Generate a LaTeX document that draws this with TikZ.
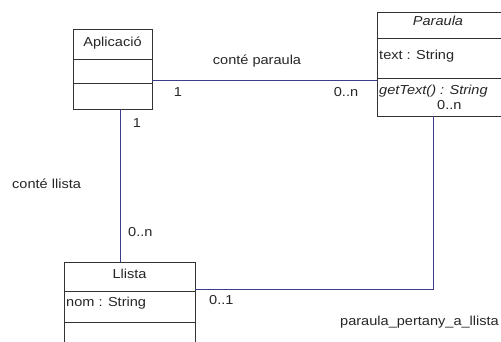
\documentclass[tikz,border=0pt]{standalone}
\usepackage{fontspec}
\setmainfont[FakeStretch=1.12]{Liberation Sans}
\begin{document}
\begin{tikzpicture}[x=1pt,y=-1pt,
  box/.style={draw=black!80,line width=1pt,inner sep=0pt,anchor=north west},
  divline/.style={draw=black!80,line width=1pt},
  conn/.style={draw={rgb,255:red,60;green,60;blue,140},line width=0.9pt},
  lbl/.style={inner sep=0pt,font=\fontsize{13}{15}\selectfont,text=black!85},
  txt/.style={lbl,anchor=west}]
\useasboundingbox (0,0) rectangle (501,342);
% boxes
\node[box,minimum width=79pt,minimum height=80pt] (apl) at (73,29) {};
\node[box,minimum width=126pt,minimum height=104pt] (par) at (377,12) {};
\node[box,minimum width=131pt,minimum height=90pt] (lli) at (64,262) {};
% dividers
\draw[divline] (73,60) -- (152,60) (73,84) -- (152,84);
\draw[divline] (377,39) -- (503,39) (377,79) -- (503,79);
\draw[divline] (64,291) -- (195,291) (64,322) -- (195,322);
% texts in boxes
\node[lbl] (tapl) at (112.5,43) {Aplicació};
\node[lbl] (tpar) at (438,21) {\itshape Paraula};
\node[txt] (tattr) at (379,56) {text : String};
\node[txt] (tmeth) at (379,91) {\itshape getText() : String};
\node[lbl] (tlli) at (129.5,274) {Llista};
\node[txt] (tnom) at (66,303) {nom : String};
% connector endpoints
\coordinate (a1) at (152,80);
\coordinate (p1) at (377,80);
\coordinate (a2) at (120,109);
\coordinate (l2) at (120,262);
\coordinate (l3) at (195,289);
\coordinate (k3) at (433,289);
\coordinate (p3) at (433,116);
\draw[conn] (a1) -- (p1);
\draw[conn] (a2) -- (l2);
\draw[conn] (l3) -- (k3) -- (p3);
% association labels
\node[lbl] (c1) at (257,61) {conté paraula};
\node[lbl] (m1) at (178,92) {1};
\node[lbl] (m2) at (346,92) {0..n};
\node[lbl] (m3) at (137,123) {1};
\node[txt] (c2) at (12,184) {conté llista};
\node[txt] (m4) at (128,232) {0..n};
\node[txt] (m5) at (437,105) {0..n};
\node[txt] (m6) at (209,300) {0..1};
\node[txt] (c3) at (340,322) {paraula\_pertany\_a\_llista};
\end{tikzpicture}
\end{document}
